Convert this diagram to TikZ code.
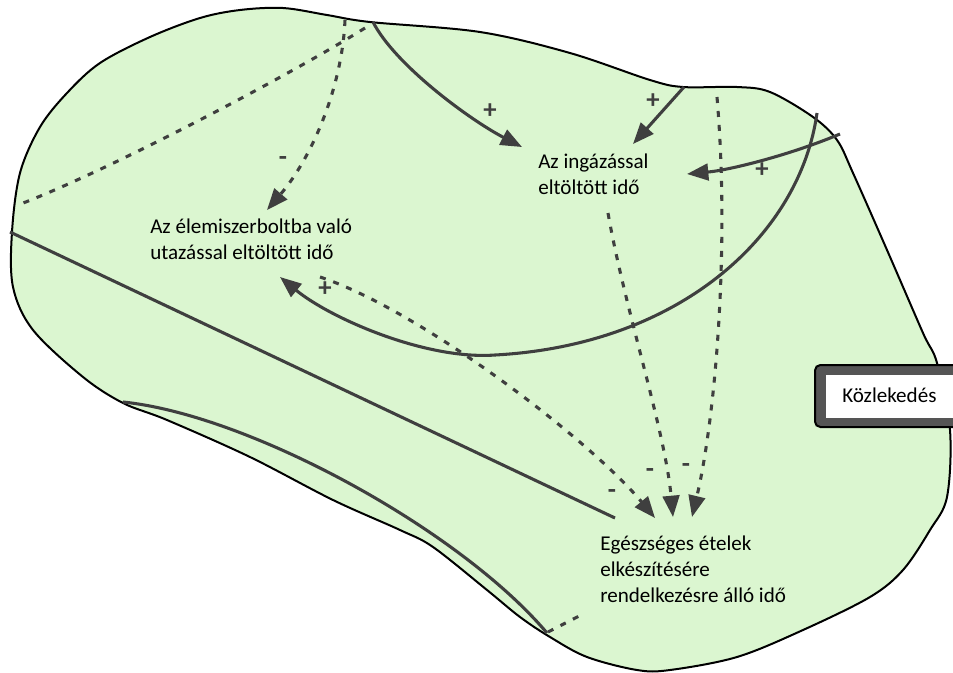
\documentclass[tikz,border=0pt]{standalone}
\usepackage{fontspec}
\setmainfont{Carlito}
\usetikzlibrary{arrows.meta}
\definecolor{blobfill}{HTML}{DBF6D0}
\definecolor{ink}{HTML}{3F3F3F}
\definecolor{frame}{HTML}{555555}
\tikzset{
  lbl/.style={inner sep=0pt, align=left, anchor=north west, font=\fontsize{15.8}{19.5}\selectfont, text=black},
  sign/.style={inner sep=0pt, font=\bfseries\fontsize{20}{22}\selectfont, text=ink},
  boxtext/.style={inner sep=0pt, font=\fontsize{15.8}{19.5}\selectfont, text=black},
  solidlink/.style={draw=ink, line width=2.3pt},
  dashlink/.style={draw=ink, line width=2.3pt, dash pattern=on 4.5pt off 6pt},
  tip/.style={-{Triangle[length=16pt,width=12.5pt]}},
}
\begin{document}
\begin{tikzpicture}[x=0.75pt,y=-0.75pt]
\useasboundingbox (0,0) rectangle (953,672);
% blob
\draw[fill=blobfill, draw=black, line width=1.5pt]
  plot[smooth cycle, tension=0.55] coordinates {
  (12,232) (20,173) (40,127) (67,93) (100,63) (150,37) (200,18) (240,10) (283,8)
  (327,15) (370,22) (480,32) (570,53) (650,80) (683,87) (737,87) (770,92) (813,117)
  (837,140) (853,173) (887,250) (923,333) (937,363) (950,430) (947,497) (930,530)
  (903,570) (870,597) (803,630) (737,657) (670,670) (637,670) (587,657) (550,637)
  (520,617) (487,590) (433,547) (400,530) (333,500) (250,457) (167,420) (123,403)
  (83,377) (33,330) (13,287)};
% coordinates
\coordinate (c1s) at (373,22);  \coordinate (c1e) at (522,147);
\coordinate (c2s) at (684,87);  \coordinate (c2e) at (633,144);
\coordinate (c3s) at (840,134); \coordinate (c3e) at (687,174);
\coordinate (c4s) at (817,113); \coordinate (c4m) at (495,355); \coordinate (c4e) at (280,277);
\coordinate (c5s) at (345,20);  \coordinate (c5e) at (267,210);
\coordinate (c6s) at (365,28);  \coordinate (c6e) at (18,205);
\coordinate (c7s) at (10,232);  \coordinate (c7e) at (615,518);
\coordinate (c8s) at (123,402); \coordinate (c8e) at (547,633);
\coordinate (c9s) at (320,277); \coordinate (c9e) at (655,518);
\coordinate (c10s) at (608,213); \coordinate (c10e) at (673,517);
\coordinate (c11s) at (717,97); \coordinate (c11e) at (692,517);
\coordinate (c12s) at (548,632); \coordinate (c12e) at (585,613);
% solid lines
\draw[solidlink, tip] (c1s) .. controls (395,65) and (470,120) .. (c1e);
\draw[solidlink, tip] (c2s) -- (c2e);
\draw[solidlink, tip] (c3s) .. controls (790,155) and (730,170) .. (c3e);
\draw[solidlink] (c4s) .. controls (800,235) and (680,345) .. (c4m);
\draw[solidlink, tip] (c4m) .. controls (425,360) and (330,318) .. (c4e);
\draw[solidlink] (c7s) -- (c7e);
\draw[solidlink] (c8s) .. controls (250,415) and (460,530) .. (c8e);
% dashed lines
\draw[dashlink, tip] (c5s) .. controls (342,90) and (310,160) .. (c5e);
\draw[dashlink] (c6s) .. controls (290,75) and (110,170) .. (c6e);
\draw[dashlink, tip] (c9s) .. controls (420,310) and (590,440) .. (c9e);
\draw[dashlink, tip] (c10s) .. controls (625,310) and (665,430) .. (c10e);
\draw[dashlink, tip] (c11s) .. controls (730,250) and (715,420) .. (c11e);
\draw[dashlink] (c12s) -- (c12e);
% labels
\node[lbl] (food) at (150,219) {Az élemiszerboltba való\\utazással eltöltött idő};
\node[lbl] (commute) at (538,154) {Az ingázással\\eltöltött idő};
\node[lbl] (healthy) at (600,536) {Egészséges ételek\\elkészítésére\\rendelkezésre álló idő};
% signs
\node[sign] (p1) at (490,111) {+};
\node[sign] (p2) at (653,101) {+};
\node[sign] (p3) at (762,170) {+};
\node[sign] (p4) at (325,289) {+};
\node[sign] (m1) at (283,161) {-};
\node[sign] (m2) at (612,494) {-};
\node[sign] (m3) at (650,473) {-};
\node[sign] (m4) at (686,468) {-};
% Kozlekedes box
\draw[fill=frame, draw=black, line width=1.5pt, rounded corners=4pt] (815,365) rectangle (975,427);
\fill[white] (826,375) rectangle (975,418);
\node[boxtext, anchor=base west] (traffic) at (842,402) {Közlekedés};
\end{tikzpicture}
\end{document}
